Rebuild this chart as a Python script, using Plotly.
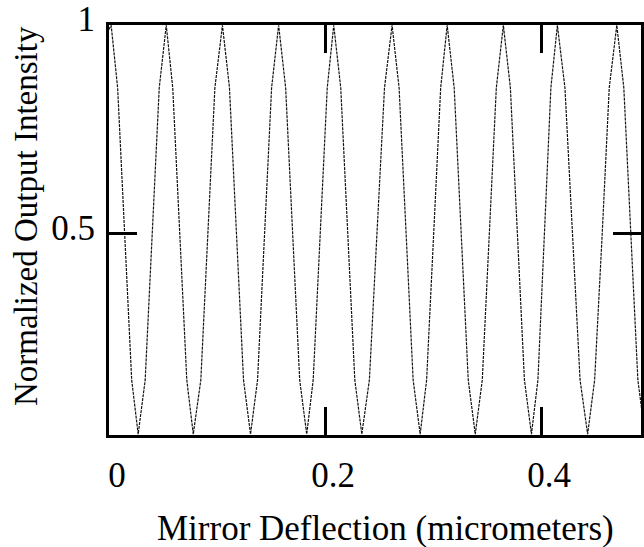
import plotly.graph_objects as go

# Interference fringes: output intensity vs. mirror deflection (polyline vertices)
deflection_um = [
    0.000, 0.002,
    0.008, 0.0145, 0.021, 0.027,
    0.0335, 0.040, 0.0465, 0.053,
    0.059, 0.0655, 0.072, 0.078,
    0.085, 0.0915, 0.098, 0.105,
    0.1115, 0.118, 0.1245, 0.131,
    0.1375, 0.144, 0.1505, 0.157,
    0.1635, 0.170, 0.1765, 0.183,
    0.189, 0.1955, 0.202, 0.208,
    0.2145, 0.221, 0.2275, 0.234,
    0.241, 0.248, 0.255, 0.262,
    0.2685, 0.275, 0.2815, 0.288,
    0.294, 0.3005, 0.307, 0.313,
    0.3195, 0.326, 0.3325, 0.339,
    0.3455, 0.352, 0.3585, 0.365,
    0.3715, 0.378, 0.3845, 0.391,
    0.397, 0.403, 0.409, 0.415,
    0.422, 0.429, 0.436, 0.443,
    0.4495, 0.4565, 0.463, 0.470,
    0.4765, 0.483, 0.4895, 0.496,
]
intensity = [
    0.99, 1.00,
    0.85, 0.50, 0.15, 0.02,
    0.15, 0.50, 0.85, 1.00,
    0.85, 0.50, 0.15, 0.02,
    0.15, 0.50, 0.85, 1.00,
    0.85, 0.50, 0.15, 0.02,
    0.15, 0.50, 0.85, 1.00,
    0.85, 0.50, 0.15, 0.02,
    0.15, 0.50, 0.85, 1.00,
    0.85, 0.50, 0.15, 0.02,
    0.15, 0.50, 0.85, 1.00,
    0.85, 0.50, 0.15, 0.02,
    0.15, 0.50, 0.85, 1.00,
    0.85, 0.50, 0.15, 0.02,
    0.15, 0.50, 0.85, 1.00,
    0.85, 0.50, 0.15, 0.02,
    0.15, 0.50, 0.85, 1.00,
    0.85, 0.50, 0.15, 0.02,
    0.15, 0.50, 0.85, 1.00,
    0.85, 0.50, 0.15, 0.02,
]

x_tick_vals = [0, 0.2, 0.4]
x_tick_text = ["0", "0.2", "0.4"]
y_tick_vals = [0.5, 1.0]
y_tick_text = ["0.5", "1"]

x_title = "Mirror Deflection (micrometers)"
y_title = "Normalized Output Intensity"

serif = "Liberation Serif, Times New Roman, serif"

fig = go.Figure()
fig.add_trace(go.Scatter(
    x=deflection_um, y=intensity, mode="lines",
    line=dict(color="#111111", width=1.2, dash="3px,1px"),
    showlegend=False, hoverinfo="skip",
))

fig.update_layout(
    width=644, height=547,
    margin=dict(l=109, r=0, t=15, b=112),
    paper_bgcolor="white", plot_bgcolor="white",
    font=dict(family=serif, size=35, color="black"),
)
fig.update_xaxes(
    range=[0, 0.4924], tickvals=x_tick_vals, ticktext=x_tick_text,
    ticks="inside", ticklen=28, tickwidth=3, tickcolor="black",
    showline=True, linewidth=3, linecolor="black", mirror="ticks",
    showgrid=False, zeroline=False,
    tickfont=dict(size=35),
    ticklabelshift=8, ticklabelstandoff=7,
)
fig.update_yaxes(
    range=[0.018, 1.0005], tickvals=y_tick_vals, ticktext=y_tick_text,
    ticks="inside", ticklen=28, tickwidth=3, tickcolor="black",
    showline=True, linewidth=3, linecolor="black", mirror="ticks",
    showgrid=False, zeroline=False,
    tickfont=dict(size=35),
    ticklabelshift=-6, ticklabelstandoff=4,
    ticklabeloverflow="allow",
)

# Axis titles placed relative to the plot area
fig.add_annotation(
    text=x_title, xref="paper", yref="paper", x=0.5, y=0,
    xanchor="center", yanchor="top", yshift=-72, xshift=10,
    showarrow=False, font=dict(size=35),
)
fig.add_annotation(
    text=y_title, xref="paper", yref="paper", x=0, y=0.5,
    xanchor="right", yanchor="middle", xshift=-63, yshift=14,
    textangle=-90, showarrow=False, font=dict(size=33),
)

fig.write_html("out.html")
